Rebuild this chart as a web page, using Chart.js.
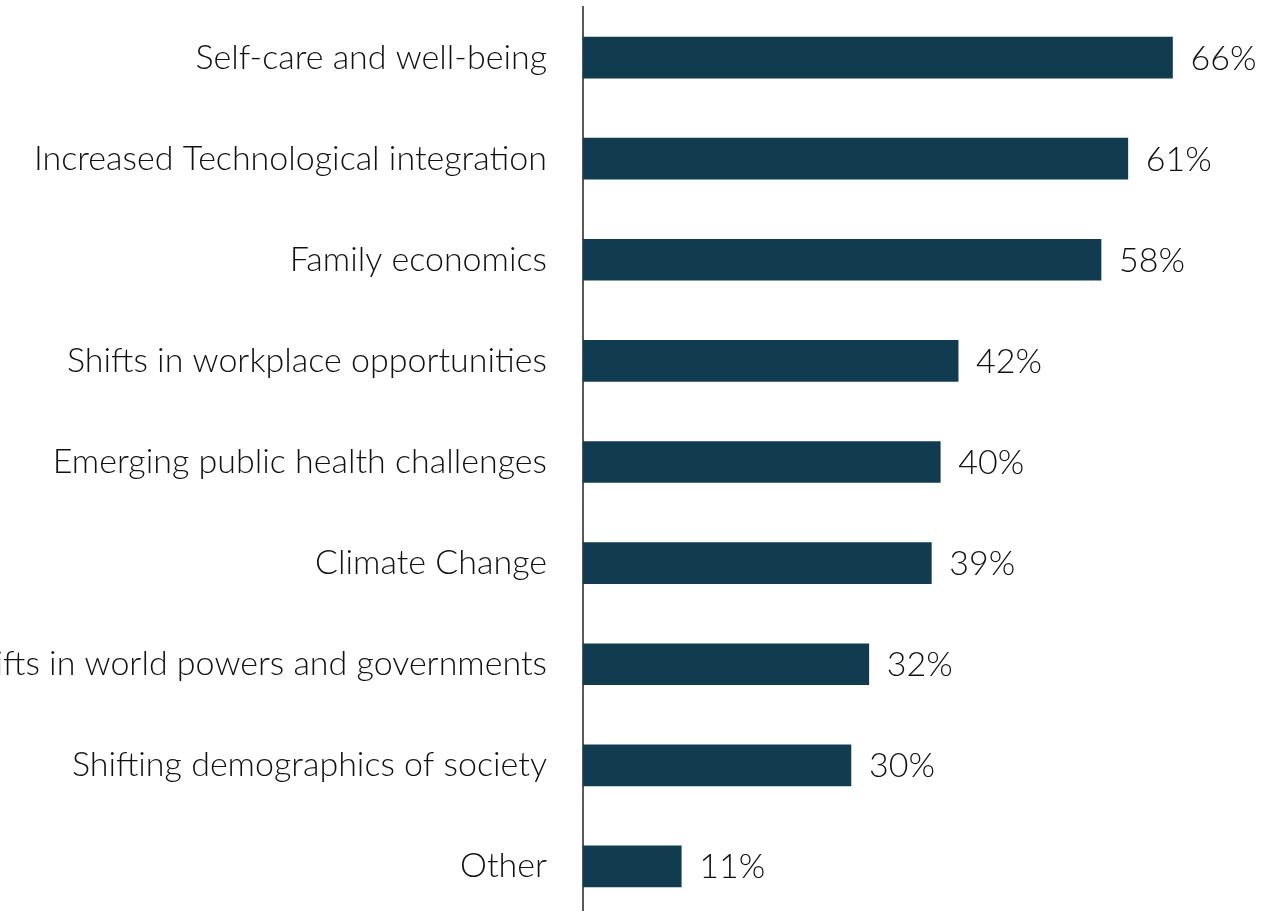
<!DOCTYPE html>
<html>
<head>
<meta charset="utf-8">
<title>Trends</title>
<script src="https://cdn.jsdelivr.net/npm/chart.js@4/dist/chart.umd.min.js"></script>
<style>
  html, body { margin: 0; padding: 0; background: #fff; overflow: hidden; }
  canvas { display: block; }
</style>
</head>
<body>
<canvas id="trendsChart" width="1271" height="917"></canvas>
<script>
(function() {
    'use strict';

    // ── Data ───────────────────────────────────────────────
    const categories = [
        'Self-care and well-being',
        'Increased Technological integration',
        'Family economics',
        'Shifts in workplace opportunities',
        'Emerging public health challenges',
        'Climate Change',
        'Shifts in world powers and governments',
        'Shifting demographics of society',
        'Other'
    ];
    const shares = [66, 61, 58, 42, 40, 39, 32, 30, 11];

    const BAR_COLOR = '#113b4f';
    const TEXT_COLOR = '#111111';
    const FONT = { family: "Lato, 'Open Sans', sans-serif", size: 34, weight: 300 };

    // Percent labels right of each bar
    const valueLabels = {
        id: 'valueLabels',
        afterDatasetsDraw(chart) {
            const ctx = chart.ctx;
            const meta = chart.getDatasetMeta(0);
            ctx.save();
            ctx.font = FONT.weight + ' ' + FONT.size + 'px ' + FONT.family;
            ctx.fillStyle = TEXT_COLOR;
            ctx.textAlign = 'left';
            ctx.textBaseline = 'middle';
            meta.data.forEach((bar, i) => {
                ctx.fillText(shares[i] + '%', bar.x + 18, bar.y + 1);
            });
            ctx.restore();
        }
    };

    new Chart(document.getElementById('trendsChart'), {
        type: 'bar',
        data: {
            labels: categories,
            datasets: [{
                data: shares,
                backgroundColor: BAR_COLOR,
                borderWidth: 0,
                barThickness: 41
            }]
        },
        options: {
            indexAxis: 'y',
            responsive: false,
            animation: false,
            layout: { padding: { top: 7, right: 36, bottom: 0, left: 0 } },
            plugins: {
                legend: { display: false },
                tooltip: { enabled: false }
            },
            scales: {
                x: {
                    display: false,
                    min: 0,
                    max: 73
                },
                y: {
                    // fixed label column; long labels run off the left edge
                    afterFit(scale) {
                        scale.width = 583;
                        scale.paddingTop = 0;
                        scale.paddingBottom = 0;
                    },
                    grid: { display: false, drawTicks: false },
                    border: { display: true, color: '#595959', width: 2 },
                    ticks: {
                        color: TEXT_COLOR,
                        font: FONT,
                        padding: 36,
                        autoSkip: false
                    }
                }
            }
        },
        plugins: [valueLabels]
    });
})();
</script>
</body>
</html>
